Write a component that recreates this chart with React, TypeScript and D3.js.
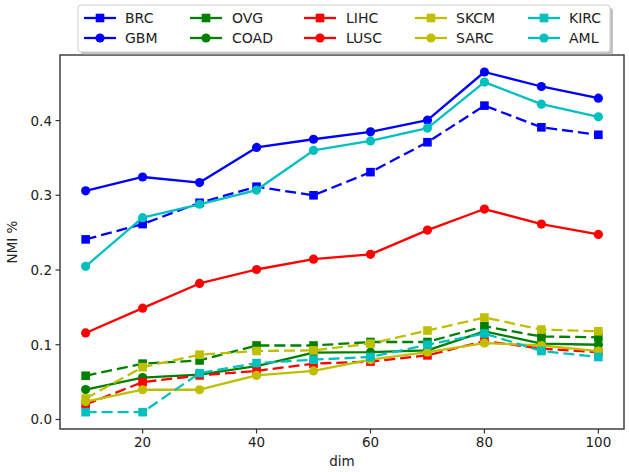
import React from "react";
import * as d3 from "d3";

const dims = [10, 20, 30, 40, 50, 60, 70, 80, 90, 100];
const seriesNames = ["BRC", "GBM", "OVG", "COAD", "LIHC", "LUSC", "SKCM", "SARC", "KIRC", "AML"];
const BRC = [0.241, 0.2615, 0.29, 0.3115, 0.3, 0.331, 0.371, 0.42, 0.391, 0.381];
const GBM = [0.306, 0.3245, 0.317, 0.364, 0.375, 0.385, 0.4005, 0.465, 0.4456, 0.43];
const OVG = [0.0585, 0.0747, 0.079, 0.099, 0.099, 0.1037, 0.1037, 0.1247, 0.111, 0.11];
const COAD = [0.04, 0.056, 0.06, 0.0715, 0.0894, 0.09, 0.0925, 0.118, 0.1015, 0.1];
const LIHC = [0.02, 0.05, 0.059, 0.065, 0.0747, 0.0775, 0.0858, 0.105, 0.0948, 0.09];
const LUSC = [0.1158, 0.149, 0.182, 0.2007, 0.2145, 0.221, 0.2534, 0.2816, 0.2615, 0.2476];
const SKCM = [0.028, 0.07, 0.0867, 0.0916, 0.0925, 0.1015, 0.119, 0.1364, 0.1203, 0.118];
const SARC = [0.024, 0.0398, 0.0398, 0.059, 0.065, 0.08, 0.09, 0.1023, 0.099, 0.0916];
const KIRC = [0.0098, 0.0098, 0.062, 0.0755, 0.08, 0.0836, 0.1, 0.115, 0.0916, 0.0836];
const AML = [0.205, 0.27, 0.288, 0.307, 0.36, 0.3728, 0.39, 0.4515, 0.422, 0.405];
const xTicks = [20, 40, 60, 80, 100];
const yTicks = [0.0, 0.1, 0.2, 0.3, 0.4];

const seriesValues = [BRC, GBM, OVG, COAD, LIHC, LUSC, SKCM, SARC, KIRC, AML];
const colors = ["#0000ff", "#0000ff", "#008000", "#008000", "#ff0000", "#ff0000", "#bfbf00", "#bfbf00", "#00bfbf", "#00bfbf"];
const isSquare = [true, false, true, false, true, false, true, false, true, false];

const FONT = "DejaVu Sans, sans-serif";

export default function App() {
  const W = 629, H = 472;
  const L = 60, R = 624, T = 55, B = 429;
  const x = d3.scaleLinear().domain([5.5, 104.5]).range([L, R]);
  const y = d3.scaleLinear().domain([-0.01275, 0.48775]).range([B, T]);
  const line = d3.line<number>().x((_, i) => x(dims[i])).y((v) => y(v));
  const lw = 2.3;

  const marker = (sq: boolean, cx: number, cy: number, c: string, key: any) =>
    sq ? (
      <rect key={key} x={cx - 4.3} y={cy - 4.3} width={8.6} height={8.6} fill={c} />
    ) : (
      <circle key={key} cx={cx} cy={cy} r={4.6} fill={c} />
    );

  // legend layout
  const legL = 78, legT = 5, legW = 532, legH = 47;
  const colX = [84, 190, 304, 415, 528];
  const textX = [125, 232, 346, 456, 569];
  const rowY = [18, 38];

  return (
    <svg width={W} height={H} style={{ position: "absolute", left: 0, top: 0, background: "#fff" }}>
      <rect x={0} y={0} width={W} height={H} fill="#fff" />
      {/* series */}
      <g>
        {seriesValues.map((vals, si) => (
          <g key={si}>
            <path
              d={line(vals) || ""}
              fill="none"
              stroke={colors[si]}
              strokeWidth={lw}
              strokeDasharray={isSquare[si] ? "11,5" : undefined}
              strokeLinejoin="round"
            />
            {vals.map((v, i) => marker(isSquare[si], x(dims[i]), y(v), colors[si], i))}
          </g>
        ))}
      </g>
      {/* frame */}
      <rect x={L} y={T} width={R - L} height={B - T} fill="none" stroke="#333" strokeWidth={1.4} />
      {/* x ticks */}
      {xTicks.map((t) => (
        <g key={t}>
          <line x1={x(t)} x2={x(t)} y1={B} y2={B + 4.5} stroke="#333" strokeWidth={1.2} />
          <text x={x(t)} y={B + 17.5} textAnchor="middle" fontFamily={FONT} fontSize={13.5} fill="#222">
            {t}
          </text>
        </g>
      ))}
      {yTicks.map((t) => (
        <g key={t}>
          <line x1={L - 4.5} x2={L} y1={y(t)} y2={y(t)} stroke="#333" strokeWidth={1.2} />
          <text x={L - 8} y={y(t) + 5} textAnchor="end" fontFamily={FONT} fontSize={13.5} fill="#222">
            {t.toFixed(1)}
          </text>
        </g>
      ))}
      <text x={(L + R) / 2} y={466} textAnchor="middle" fontFamily={FONT} fontSize={13.5} fill="#222">
        dim
      </text>
      <text
        transform={`translate(17,${(T + B) / 2}) rotate(-90)`}
        textAnchor="middle"
        fontFamily={FONT}
        fontSize={13.5}
        fill="#222"
      >
        NMI %
      </text>
      {/* legend */}
      <rect x={legL + 3} y={legT + 3} width={legW} height={legH} rx={3} fill="#999" opacity={0.6} />
      <rect x={legL} y={legT} width={legW} height={legH} rx={3} fill="#fff" stroke="#ccc" strokeWidth={1} />
      {seriesNames.map((name, si) => {
        const col = Math.floor(si / 2);
        const row = si % 2;
        const lx = colX[col];
        const ly = rowY[row];
        return (
          <g key={name}>
            <line x1={lx} x2={lx + 32} y1={ly} y2={ly} stroke={colors[si]} strokeWidth={lw} />
            {marker(isSquare[si], lx + 16, ly, colors[si], "m")}
            <text x={textX[col]} y={ly + 5} fontFamily={FONT} fontSize={14} fill="#222">
              {name}
            </text>
          </g>
        );
      })}
    </svg>
  );
}
